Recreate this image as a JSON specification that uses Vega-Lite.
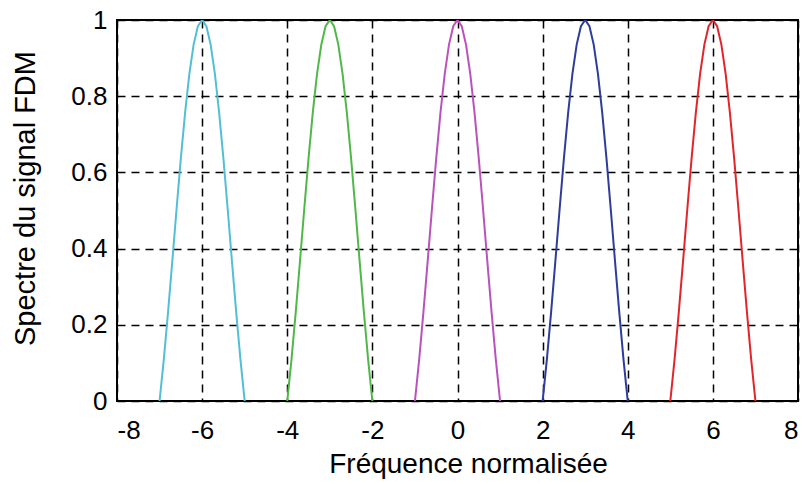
{
  "$schema": "https://vega.github.io/schema/vega-lite/v6.json",
  "autosize": {"type": "none"},
  "padding": {"left": 117, "top": 20, "right": 7, "bottom": 83},
  "width": 681,
  "height": 381,
  "background": "white",
  "config": {
    "font": "Liberation Sans",
    "view": {"stroke": "black", "strokeWidth": 2}
  },
  "data": {
    "values": [
      {"f": -7.0, "s": 0, "c": "a"}, {"f": -6.9, "s": 0.1093, "c": "a"}, {"f": -6.8, "s": 0.2339, "c": "a"}, {"f": -6.7, "s": 0.3679, "c": "a"}, {"f": -6.6, "s": 0.5046, "c": "a"}, {"f": -6.5, "s": 0.6366, "c": "a"}, {"f": -6.4, "s": 0.7568, "c": "a"}, {"f": -6.3, "s": 0.8584, "c": "a"}, {"f": -6.2, "s": 0.9355, "c": "a"}, {"f": -6.1, "s": 0.9836, "c": "a"}, {"f": -6.0, "s": 1, "c": "a"}, {"f": -5.9, "s": 0.9836, "c": "a"}, {"f": -5.8, "s": 0.9355, "c": "a"}, {"f": -5.7, "s": 0.8584, "c": "a"}, {"f": -5.6, "s": 0.7568, "c": "a"}, {"f": -5.5, "s": 0.6366, "c": "a"}, {"f": -5.4, "s": 0.5046, "c": "a"}, {"f": -5.3, "s": 0.3679, "c": "a"}, {"f": -5.2, "s": 0.2339, "c": "a"}, {"f": -5.1, "s": 0.1093, "c": "a"}, {"f": -5.0, "s": 0, "c": "a"},
      {"f": -4.0, "s": 0, "c": "b"}, {"f": -3.9, "s": 0.1093, "c": "b"}, {"f": -3.8, "s": 0.2339, "c": "b"}, {"f": -3.7, "s": 0.3679, "c": "b"}, {"f": -3.6, "s": 0.5046, "c": "b"}, {"f": -3.5, "s": 0.6366, "c": "b"}, {"f": -3.4, "s": 0.7568, "c": "b"}, {"f": -3.3, "s": 0.8584, "c": "b"}, {"f": -3.2, "s": 0.9355, "c": "b"}, {"f": -3.1, "s": 0.9836, "c": "b"}, {"f": -3.0, "s": 1, "c": "b"}, {"f": -2.9, "s": 0.9836, "c": "b"}, {"f": -2.8, "s": 0.9355, "c": "b"}, {"f": -2.7, "s": 0.8584, "c": "b"}, {"f": -2.6, "s": 0.7568, "c": "b"}, {"f": -2.5, "s": 0.6366, "c": "b"}, {"f": -2.4, "s": 0.5046, "c": "b"}, {"f": -2.3, "s": 0.3679, "c": "b"}, {"f": -2.2, "s": 0.2339, "c": "b"}, {"f": -2.1, "s": 0.1093, "c": "b"}, {"f": -2.0, "s": 0, "c": "b"},
      {"f": -1.0, "s": 0, "c": "c"}, {"f": -0.9, "s": 0.1093, "c": "c"}, {"f": -0.8, "s": 0.2339, "c": "c"}, {"f": -0.7, "s": 0.3679, "c": "c"}, {"f": -0.6, "s": 0.5046, "c": "c"}, {"f": -0.5, "s": 0.6366, "c": "c"}, {"f": -0.4, "s": 0.7568, "c": "c"}, {"f": -0.3, "s": 0.8584, "c": "c"}, {"f": -0.2, "s": 0.9355, "c": "c"}, {"f": -0.1, "s": 0.9836, "c": "c"}, {"f": 0.0, "s": 1, "c": "c"}, {"f": 0.1, "s": 0.9836, "c": "c"}, {"f": 0.2, "s": 0.9355, "c": "c"}, {"f": 0.3, "s": 0.8584, "c": "c"}, {"f": 0.4, "s": 0.7568, "c": "c"}, {"f": 0.5, "s": 0.6366, "c": "c"}, {"f": 0.6, "s": 0.5046, "c": "c"}, {"f": 0.7, "s": 0.3679, "c": "c"}, {"f": 0.8, "s": 0.2339, "c": "c"}, {"f": 0.9, "s": 0.1093, "c": "c"}, {"f": 1.0, "s": 0, "c": "c"},
      {"f": 2.0, "s": 0, "c": "d"}, {"f": 2.1, "s": 0.1093, "c": "d"}, {"f": 2.2, "s": 0.2339, "c": "d"}, {"f": 2.3, "s": 0.3679, "c": "d"}, {"f": 2.4, "s": 0.5046, "c": "d"}, {"f": 2.5, "s": 0.6366, "c": "d"}, {"f": 2.6, "s": 0.7568, "c": "d"}, {"f": 2.7, "s": 0.8584, "c": "d"}, {"f": 2.8, "s": 0.9355, "c": "d"}, {"f": 2.9, "s": 0.9836, "c": "d"}, {"f": 3.0, "s": 1, "c": "d"}, {"f": 3.1, "s": 0.9836, "c": "d"}, {"f": 3.2, "s": 0.9355, "c": "d"}, {"f": 3.3, "s": 0.8584, "c": "d"}, {"f": 3.4, "s": 0.7568, "c": "d"}, {"f": 3.5, "s": 0.6366, "c": "d"}, {"f": 3.6, "s": 0.5046, "c": "d"}, {"f": 3.7, "s": 0.3679, "c": "d"}, {"f": 3.8, "s": 0.2339, "c": "d"}, {"f": 3.9, "s": 0.1093, "c": "d"}, {"f": 4.0, "s": 0, "c": "d"},
      {"f": 5.0, "s": 0, "c": "e"}, {"f": 5.1, "s": 0.1093, "c": "e"}, {"f": 5.2, "s": 0.2339, "c": "e"}, {"f": 5.3, "s": 0.3679, "c": "e"}, {"f": 5.4, "s": 0.5046, "c": "e"}, {"f": 5.5, "s": 0.6366, "c": "e"}, {"f": 5.6, "s": 0.7568, "c": "e"}, {"f": 5.7, "s": 0.8584, "c": "e"}, {"f": 5.8, "s": 0.9355, "c": "e"}, {"f": 5.9, "s": 0.9836, "c": "e"}, {"f": 6.0, "s": 1, "c": "e"}, {"f": 6.1, "s": 0.9836, "c": "e"}, {"f": 6.2, "s": 0.9355, "c": "e"}, {"f": 6.3, "s": 0.8584, "c": "e"}, {"f": 6.4, "s": 0.7568, "c": "e"}, {"f": 6.5, "s": 0.6366, "c": "e"}, {"f": 6.6, "s": 0.5046, "c": "e"}, {"f": 6.7, "s": 0.3679, "c": "e"}, {"f": 6.8, "s": 0.2339, "c": "e"}, {"f": 6.9, "s": 0.1093, "c": "e"}, {"f": 7.0, "s": 0, "c": "e"}
    ]
  },
  "mark": {"type": "line", "strokeWidth": 2, "clip": true},
  "encoding": {
    "x": {
      "field": "f", "type": "quantitative",
      "scale": {"domain": [-8, 8], "nice": false, "zero": false},
      "axis": {
        "title": "Fréquence normalisée",
        "values": [-8, -6, -4, -2, 0, 2, 4, 6, 8],
        "labelExpr": "datum.value < 0 ? '-' + abs(datum.value) : '' + datum.value",
        "grid": true, "gridColor": "black", "gridDash": [8, 6], "gridWidth": 1.5, "gridOpacity": 1,
        "domain": false, "ticks": false,
        "labelFontSize": 26, "labelColor": "black", "labelPadding": 16,
        "labelFont": "Liberation Sans",
        "titleFontSize": 28, "titleFontWeight": "normal", "titleColor": "black", "titlePadding": 7,
        "titleFont": "Liberation Sans", "titleX": 351, "titleAlign": "center"
      }
    },
    "y": {
      "field": "s", "type": "quantitative",
      "scale": {"domain": [0, 1], "nice": false},
      "axis": {
        "title": "Spectre du signal FDM",
        "values": [0, 0.2, 0.4, 0.6, 0.8, 1],
        "labelExpr": "'' + datum.value",
        "grid": true, "gridColor": "black", "gridDash": [8, 6], "gridWidth": 1.5, "gridOpacity": 1,
        "domain": false, "ticks": false,
        "labelFontSize": 26, "labelColor": "black", "labelPadding": 10,
        "labelFont": "Liberation Sans",
        "titleFontSize": 29, "titleFontWeight": "normal", "titleColor": "black", "titlePadding": 30,
        "titleFont": "Liberation Sans", "titleY": 178, "titleAlign": "center"
      }
    },
    "color": {
      "field": "c", "type": "nominal",
      "scale": {"domain": ["a", "b", "c", "d", "e"], "range": ["#52bfd4", "#4fb848", "#bb52bb", "#2e3c9c", "#e0262c"]},
      "legend": null
    }
  }
}
